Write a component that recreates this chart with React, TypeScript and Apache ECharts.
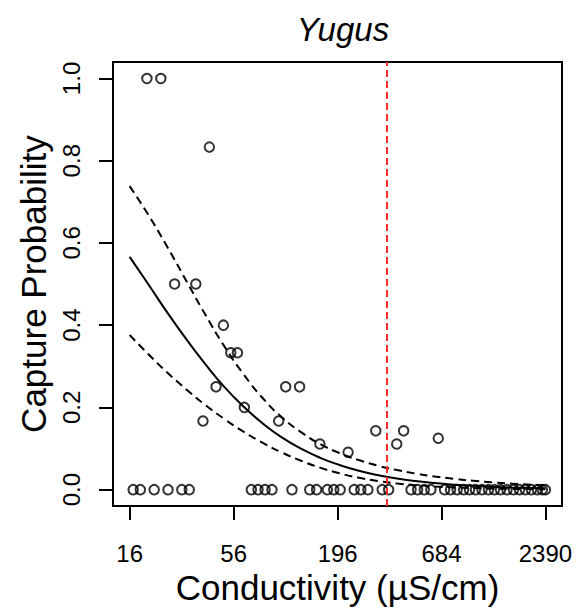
import React, { useEffect, useRef } from "react";
import * as echarts from "echarts";

// Observations: conductivity (µS/cm) and capture probability
const CAPTURE_X = [19.7, 23.3, 41.8, 27.5, 35.5, 49.5, 54.1, 58.6, 45.3, 104.8, 123.9, 63.7, 38.7, 96.3, 158.2, 222.2, 310, 399, 433.7, 658];
const CAPTURE_Y = [1, 1, 0.833, 0.5, 0.5, 0.4, 0.333, 0.333, 0.25, 0.25, 0.25, 0.2, 0.167, 0.167, 0.111, 0.091, 0.143, 0.111, 0.143, 0.125];
// Sites with zero captures
const ZERO_X = [16.7, 18.2, 21.5, 25.4, 30.0, 32.8, 69.3, 75.1, 81.7, 88.8, 113, 140, 152, 173, 187, 202, 239, 259, 282, 335, 362, 474, 513, 556, 602, 710, 763, 826, 893, 959, 1030, 1114, 1205, 1294, 1392, 1505, 1627, 1749, 1879, 2019, 2170, 2304, 2390];

// Fitted curve and confidence band
const CURVE_X = [16, 20, 25, 32, 40, 50, 63, 80, 100, 126, 160, 200, 250, 320, 400, 500, 630, 800, 1000, 1260, 1600, 2000, 2390];
const FIT = [0.566, 0.5, 0.433, 0.363, 0.304, 0.25, 0.202, 0.16, 0.127, 0.0997, 0.0768, 0.06, 0.0466, 0.0351, 0.0271, 0.0209, 0.0159, 0.012, 0.0092, 0.007, 0.0053, 0.0041, 0.0033];
const UPPER = [0.738, 0.669, 0.593, 0.504, 0.424, 0.349, 0.281, 0.221, 0.176, 0.14, 0.11, 0.0892, 0.0726, 0.058, 0.0477, 0.0392, 0.0321, 0.0262, 0.0216, 0.0178, 0.0145, 0.012, 0.0103];
const LOWER = [0.376, 0.33, 0.286, 0.242, 0.205, 0.172, 0.141, 0.113, 0.0904, 0.0703, 0.0529, 0.0398, 0.0295, 0.021, 0.0152, 0.011, 0.0078, 0.0055, 0.0039, 0.0027, 0.0019, 0.0014, 0.001];

// Threshold (red dashed line)
const THRESHOLD = [355];

// Axis ticks
const X_TICKS = [16, 56, 196, 684, 2390];
const Y_TICKS = [0, 0.2, 0.4, 0.6, 0.8, 1.0];

const FONT = "'Liberation Sans', Arial, Helvetica, sans-serif";

export default function App() {
  const ref = useRef<HTMLDivElement>(null);
  useEffect(() => {
    document.body.style.margin = "0";
    if (!ref.current) return;
    const chart = echarts.init(ref.current, undefined, { renderer: "svg" });
    const lx = CURVE_X.map((v) => Math.log(v));
    const lmin = Math.min(...lx);
    const lmax = Math.max(...lx);
    const ext = (lmax - lmin) * 0.04;
    const pts = [
      ...ZERO_X.map((x) => [Math.log(x), 0]),
      ...CAPTURE_X.map((x, i) => [Math.log(x), CAPTURE_Y[i]]),
    ];
    const line = (ys: number[]) => CURVE_X.map((x, i) => [Math.log(x), ys[i]]);
    chart.setOption({
      animation: false,
      title: {
        text: "Yugus",
        left: 338,
        top: 8,
        textAlign: "center",
        textStyle: { fontFamily: FONT, fontSize: 33, fontStyle: "italic", fontWeight: "normal", color: "#000" },
      },
      grid: { left: 113, top: 62, width: 449, height: 449, show: true, borderColor: "#000", borderWidth: 2 },
      xAxis: {
        type: "value",
        min: lmin - ext,
        max: lmax + ext,
        name: "Conductivity (µS/cm)",
        nameLocation: "middle",
        nameGap: 56,
        nameTextStyle: { fontFamily: FONT, fontSize: 35, color: "#000" },
        axisLine: { show: true, onZero: false, lineStyle: { color: "#000", width: 2 } },
        axisTick: { show: true, customValues: X_TICKS.map((v) => Math.log(v)), length: 14, lineStyle: { color: "#000", width: 2 } },
        axisLabel: {
          customValues: X_TICKS.map((v) => Math.log(v)),
          formatter: (v: number) => String(Math.round(Math.exp(v))),
          fontFamily: FONT,
          fontSize: 24,
          color: "#000",
          margin: 35,
        },
        splitLine: { show: false },
      },
      yAxis: {
        type: "value",
        min: -0.04,
        max: 1.04,
        name: "Capture Probability",
        nameLocation: "middle",
        nameRotate: 90,
        nameGap: 62,
        nameTextStyle: { fontFamily: FONT, fontSize: 35, color: "#000" },
        axisLine: { show: true, onZero: false, lineStyle: { color: "#000", width: 2 } },
        axisTick: { show: true, customValues: Y_TICKS, length: 14, lineStyle: { color: "#000", width: 2 } },
        axisLabel: {
          customValues: Y_TICKS,
          formatter: (v: number) => v.toFixed(1),
          rotate: 90,
          fontFamily: FONT,
          fontSize: 24,
          color: "#000",
          margin: 30,
        },
        splitLine: { show: false },
      },
      series: [
        {
          type: "scatter",
          data: pts,
          symbol: "circle",
          symbolSize: 9.5,
          itemStyle: { color: "rgba(0,0,0,0)", borderColor: "#000", borderWidth: 2 },
          silent: true,
        },
        {
          type: "line",
          data: line(FIT),
          smooth: true,
          showSymbol: false,
          lineStyle: { color: "#000", width: 2 },
          silent: true,
        },
        {
          type: "line",
          data: line(UPPER),
          smooth: true,
          showSymbol: false,
          lineStyle: { color: "#000", width: 2, type: [8, 5] },
          silent: true,
        },
        {
          type: "line",
          data: line(LOWER),
          smooth: true,
          showSymbol: false,
          lineStyle: { color: "#000", width: 2, type: [8, 5] },
          silent: true,
          markLine: {
            silent: true,
            symbol: ["none", "none"],
            label: { show: false },
            lineStyle: { color: "#ff2a2a", width: 2, type: [7, 4] },
            data: THRESHOLD.map((t) => ({ xAxis: Math.log(t) })),
          },
        },
      ],
    });
    return () => chart.dispose();
  }, []);
  return <div ref={ref} style={{ width: 578, height: 610 }} />;
}
